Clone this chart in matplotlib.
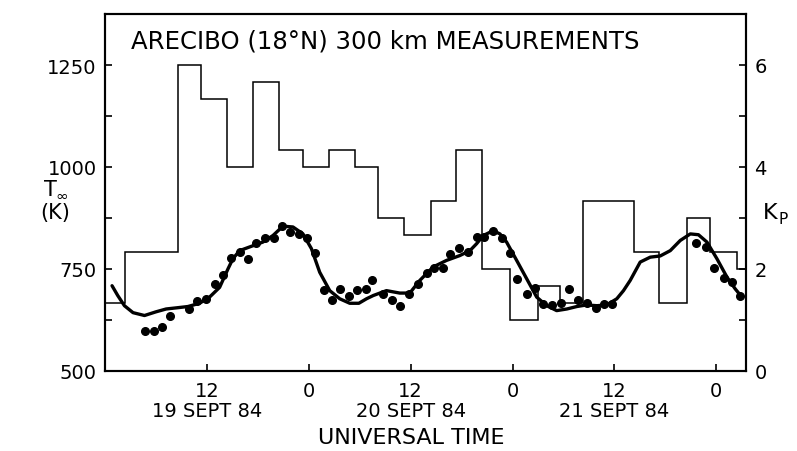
#!/usr/bin/env python3
# Arecibo 300 km exospheric temperature and Kp, 19-21 Sept 1984

import matplotlib
matplotlib.use('Agg')
from matplotlib import pyplot as plt
from matplotlib.ticker import MultipleLocator

# hours after 00 UT, 19 Sept 84
kp_edges = [0.0, 2.4, 8.6, 11.25, 14.4, 17.4, 20.45, 23.3, 26.35, 29.4,
            32.1, 35.2, 38.4, 41.3, 44.4, 47.7, 51.0, 53.6, 56.3, 62.3,
            65.3, 68.5, 71.3, 74.4, 75.5]
kp_values = [1.33, 2.33, 6.0, 5.33, 4.0, 5.67, 4.33, 4.0, 4.33, 4.0,
             3.0, 2.67, 3.33, 4.33, 2.0, 1.0, 1.67, 1.33, 3.33, 2.33,
             1.33, 3.0, 2.33, 2.0]

dot_hours = [4.73, 5.75, 6.69, 7.64, 9.87, 10.86, 11.92, 12.94, 13.89, 14.87,
             15.85, 16.83, 17.74, 18.8, 19.86, 20.89, 21.83, 22.81, 23.8, 24.7,
             25.76, 26.74, 27.73, 28.75, 29.73, 30.71, 31.5, 32.76, 33.75, 34.73,
             35.83, 36.9, 37.87, 38.77, 39.76, 40.62, 41.68, 42.78, 43.77, 44.63,
             45.73, 46.72, 47.7, 48.49, 49.67, 50.65, 51.63, 52.62, 53.68, 54.66,
             55.76, 56.75, 57.84, 58.82, 59.7, 69.64, 70.82, 71.68, 72.86, 73.85,
             74.83]
dot_temps = [597, 597, 609, 634, 652, 672, 677, 714, 736, 777,
             791, 775, 813, 826, 826, 855, 840, 836, 826, 789,
             699, 674, 700, 685, 699, 701, 723, 689, 673, 660,
             689, 714, 741, 753, 752, 787, 801, 791, 828, 828,
             843, 826, 790, 726, 689, 703, 664, 662, 667, 701,
             675, 667, 654, 664, 664, 814, 805, 753, 728, 718,
             685]

curve_hours = [0.83, 1.5, 2.29, 3.3, 4.65, 6.0, 7.2, 8.5, 9.76, 11.14,
               12.31, 13.5, 14.48, 15.06, 15.85, 17.03, 18.6, 19.78, 20.96, 22.14,
               23.32, 24.31, 25.29, 26.47, 27.65, 28.83, 29.9, 30.8, 31.6, 33.15,
               34.72, 35.9, 37.08, 38.65, 40.22, 41.8, 42.98, 43.77, 44.55, 45.73,
               46.52, 47.3, 48.49, 49.67, 50.85, 52.03, 53.2, 54.4, 55.57, 56.75,
               57.93, 59.1, 60.28, 61.07, 61.86, 63.04, 64.22, 65.4, 66.58, 67.76,
               68.94, 69.9, 70.9, 72.08, 73.26, 74.24, 75.03]
curve_temps = [709, 685, 660, 643, 636, 645, 652, 655, 658, 666,
               681, 705, 750, 775, 795, 804, 816, 832, 855, 853,
               836, 800, 742, 697, 677, 666, 666, 677, 685, 697,
               691, 691, 722, 755, 771, 783, 795, 812, 832, 844,
               836, 816, 771, 726, 681, 660, 648, 652, 658, 662,
               660, 662, 677, 697, 722, 767, 779, 782, 795, 820,
               836, 834, 816, 775, 730, 701, 681]

tick_hours = [12, 24, 36, 48, 60, 72]
tick_labels = ['12', '0', '12', '0', '12', '0']
day_hours = [12, 36, 60]
day_labels = ['19 SEPT 84', '20 SEPT 84', '21 SEPT 84']

W, H = 797, 452


def px(x, y):
    return x / W, 1 - y / H


def main():
    plt.rcParams['font.family'] = 'DejaVu Sans'
    fig = plt.figure(figsize=(W / 100, H / 100), dpi=100)
    ax = fig.add_axes([105 / W, 1 - 372 / H, (746 - 105) / W, (372 - 15) / H])
    ax2 = ax.twinx()

    ax2.stairs(kp_values, kp_edges, baseline=None, color='black', linewidth=1.1)
    ax.plot(curve_hours, curve_temps, color='black', linewidth=2.4,
            solid_capstyle='round', solid_joinstyle='round')
    ax.plot(dot_hours, dot_temps, 'o', color='black', markersize=5.5)

    ax.set_xlim(0, 75.5)
    ax.set_ylim(500, 1375)
    ax2.set_ylim(0, 7)

    ax.set_xticks(tick_hours)
    ax.set_xticklabels(tick_labels)
    ax.yaxis.set_major_locator(MultipleLocator(250))
    ax.yaxis.set_minor_locator(MultipleLocator(125))
    ax2.yaxis.set_minor_locator(MultipleLocator(1))
    ax2.set_yticks([0, 2, 4, 6])

    for a in (ax, ax2):
        for s in a.spines.values():
            s.set_linewidth(1.5)
        a.tick_params(which='both', direction='in', length=5, width=1.2,
                      labelsize=14, pad=6)
    ax.tick_params(axis='x', pad=7)

    fig.text(*px(131, 42), 'ARECIBO (18°N) 300 km MEASUREMENTS',
             fontsize=17.6, va='center', ha='left')

    for h, lab in zip(day_hours, day_labels):
        ax.text(h, -0.11, lab, transform=ax.get_xaxis_transform(),
                ha='center', va='center', fontsize=14)
    fig.text(*px(411, 438), 'UNIVERSAL TIME', ha='center', va='center', fontsize=16)

    # T-infinity label split into letter and subscript
    fig.text(*px(50, 190), 'T', ha='center', va='center', fontsize=15)
    fig.text(*px(62, 196), '∞', ha='center', va='center', fontsize=11)
    fig.text(*px(55, 213), '(K)', ha='center', va='center', fontsize=15)
    fig.text(*px(770, 213), 'K', ha='center', va='center', fontsize=16)
    fig.text(*px(783, 219), 'P', ha='center', va='center', fontsize=11)

    fig.savefig('out.png', dpi=100)


if __name__ == '__main__':
    main()
